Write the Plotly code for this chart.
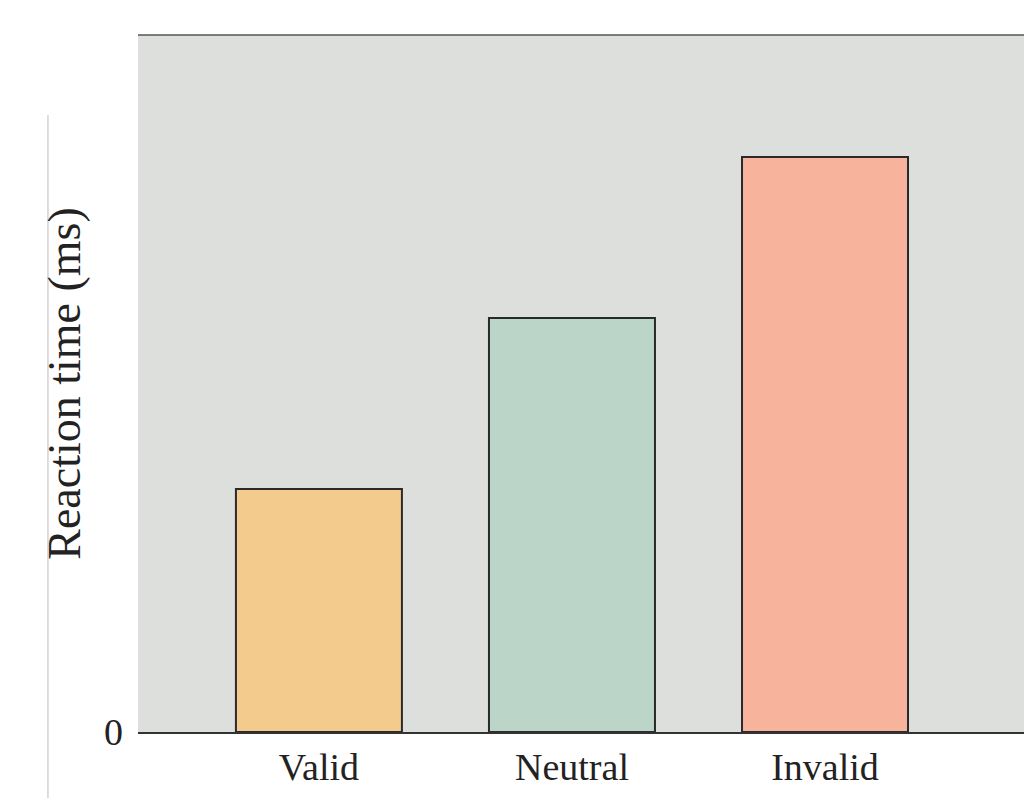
import plotly.graph_objects as go

categories = ["Valid", "Neutral", "Invalid"]
values = [243, 414, 575]
colors = ["#F3CB8D", "#BBD6C8", "#F7B39B"]

fig = go.Figure(go.Bar(
    x=[0, 1, 2], y=values, width=0.656,
    marker=dict(color=colors, line=dict(color="#2a2a2a", width=2)),
))
font = "Liberation Serif, DejaVu Serif, serif"
fig.update_layout(
    width=1024, height=790,
    margin=dict(l=130, r=0, t=27, b=66),
    plot_bgcolor="#DCDFDC", paper_bgcolor="white",
    font=dict(family=font, size=38, color="#222"),
    showlegend=False,
    xaxis=dict(range=[-0.715, 2.818], tickvals=[0, 1, 2], ticktext=categories,
               showgrid=False, zeroline=False, showline=True, linecolor="#333",
               linewidth=2, ticks="", ticklabelstandoff=0),
    yaxis=dict(range=[0, 697], tickvals=[0], ticktext=["0"], showgrid=False,
               zeroline=False, showline=False, ticks="", ticklabelstandoff=14,
               title=dict(text="Reaction time (ms)", standoff=8)),
    shapes=[
        dict(type="line", xref="paper", yref="paper", x0=-0.1007, x1=-0.1007,
             y0=-0.1, y1=0.885, line=dict(color="#BBBBBB", width=1)),
        dict(type="line", xref="paper", yref="paper", x0=0, x1=1,
             y0=1, y1=1, line=dict(color="#555", width=1.5)),
    ],
)
fig.write_html("out.html")
